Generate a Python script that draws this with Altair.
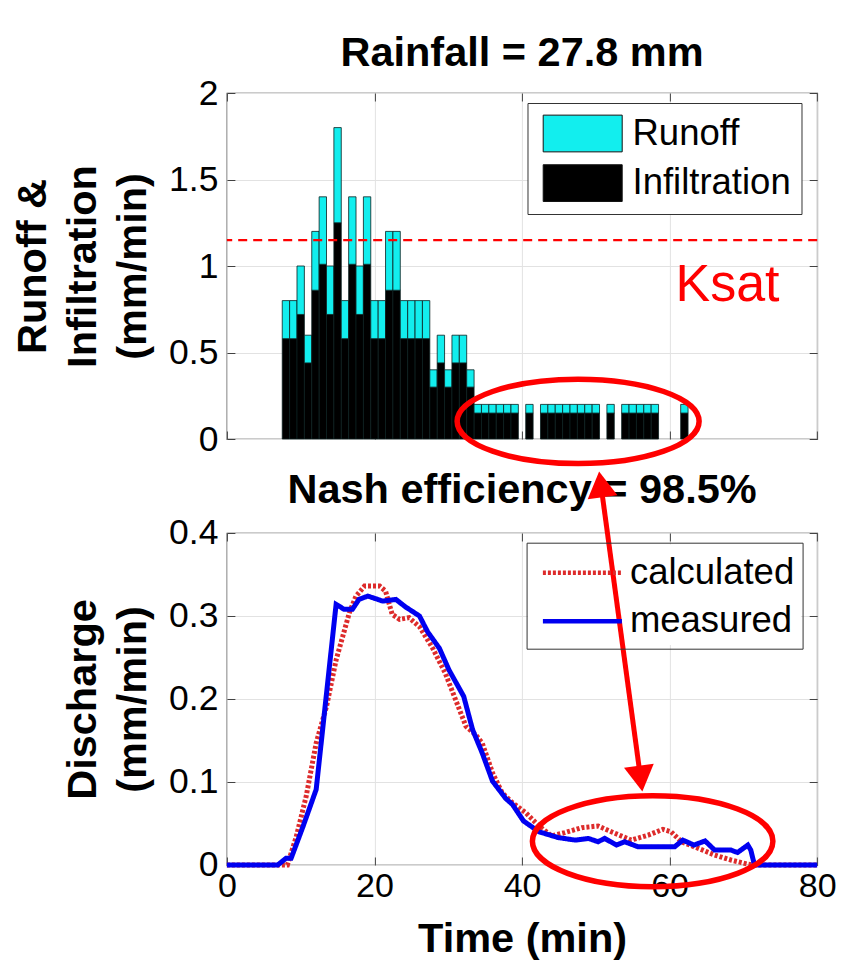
import altair as alt
import pandas as pd

FONT = "Liberation Sans"
CYAN = "#12eeee"
RED = "#ff0000"
CALC_RED = "#dd2b2b"
BLUE = "#0000f0"

# ---------------- top panel: 1-min rainfall split (mm/min) ----------------
bar_time = [8, 9, 10, 11, 12, 13, 14, 15, 16, 17, 18, 19, 20, 21, 22, 23,
            24, 25, 26, 27, 28, 29, 30, 31, 32, 33, 34, 35, 36, 37, 38, 39,
            41, 43, 44, 45, 46, 47, 48, 49, 50, 52, 54, 55, 56, 57, 58, 62]
bar_total = [0.8, 0.8, 1.0, 0.6, 1.2, 1.4, 1.0, 1.8, 0.8, 1.4, 1.0, 1.4, 0.8, 0.8, 1.2, 1.2,
             0.8, 0.8, 0.8, 0.8, 0.4, 0.6, 0.4, 0.6, 0.6, 0.4, 0.2, 0.2, 0.2, 0.2, 0.2, 0.2,
             0.2, 0.2, 0.2, 0.2, 0.2, 0.2, 0.2, 0.2, 0.2, 0.2, 0.2, 0.2, 0.2, 0.2, 0.2, 0.2]
bar_infiltration = [0.58, 0.58, 0.72, 0.44, 0.86, 1.01, 0.72, 1.25, 0.58, 1.01, 0.72, 1.01, 0.58, 0.58, 0.86, 0.86,
                    0.58, 0.58, 0.58, 0.58, 0.30, 0.44, 0.30, 0.44, 0.44, 0.30, 0.15, 0.15, 0.15, 0.15, 0.15, 0.15,
                    0.15, 0.15, 0.15, 0.15, 0.15, 0.15, 0.15, 0.15, 0.15, 0.15, 0.15, 0.15, 0.15, 0.15, 0.15, 0.15]
BAR_HALF = 0.5
ksat_value = [1.15]
ksat_label = {"t": [60.8], "v": [0.795], "label": ["Ksat"]}

# ---------------- bottom panel: discharge (mm/min) ----------------
calc_time = [0, 8.2, 9.4, 10.75, 12.1, 13.5, 14.8, 16.6, 17.5, 18.65, 20.7, 21.5, 22.4, 23.4,
             24.7, 26.1, 27.9, 29.6, 31.0, 32.4, 33.7, 34.6, 36.0, 37.3, 38.7, 40.5, 42.3,
             44.0, 45.8, 48.1, 50.3, 52.1, 54.8, 57.1, 59.1, 60.2, 61.6, 63.9, 66.1, 68.3,
             70.6, 71.3, 80]
calc_q = [0, 0, 0.034, 0.083, 0.147, 0.191, 0.247, 0.304, 0.324, 0.336, 0.336, 0.330, 0.302, 0.296,
          0.298, 0.287, 0.261, 0.231, 0.199, 0.167, 0.157, 0.147, 0.111, 0.087, 0.075, 0.063, 0.047,
          0.035, 0.039, 0.045, 0.047, 0.040, 0.030, 0.036, 0.043, 0.040, 0.028, 0.020, 0.012, 0.006,
          0.001, 0, 0]
meas_time = [0, 6.9, 8.0, 8.7, 10.3, 12.1, 14.8, 15.9, 17.0, 17.9, 19.1, 21.1, 22.9, 24.2, 26.1,
             27.2, 28.8, 30.1, 32.1, 33.3, 34.6, 36.0, 37.8, 38.7, 40.2, 42.3, 44.9, 47.2, 49.0,
             50.3, 51.2, 52.8, 53.9, 55.7, 58.0, 60.7, 61.8, 63.3, 64.8, 66.1, 68.3, 69.2, 70.6,
             71.0, 71.5, 80]
meas_q = [0, 0, 0.008, 0.008, 0.046, 0.091, 0.314, 0.308, 0.308, 0.320, 0.324, 0.318, 0.320, 0.311,
          0.300, 0.281, 0.261, 0.235, 0.203, 0.163, 0.135, 0.101, 0.080, 0.073, 0.053, 0.040, 0.033,
          0.030, 0.032, 0.028, 0.032, 0.024, 0.028, 0.022, 0.022, 0.022, 0.030, 0.024, 0.029, 0.018,
          0.018, 0.015, 0.024, 0.018, 0, 0]
nash_title = {"t": [40], "v": [0.436], "label": ["Nash efficiency = 98.5%"]}

# ---------------- annotations (data units of each panel) ----------------
top_ring = {"t": [47.6], "v": [0.102]}
bottom_ring = {"t": [57.7], "v": [0.0287]}
arrow_shaft = {"t": [50.68], "v": [0.4587], "t2": [56.07], "v2": [0.1042]}
arrow_head_up = {"t": [50.68], "v": [0.4587]}
arrow_head_down = {"t": [56.07], "v": [0.1042]}
legend_patch = {"t": [40.8], "t2": [77.8], "v": [0.265], "v2": [0.386]}

TOP_RING_PATH = "M-1,0A1,0.349,0,1,1,1,0A1,0.349,0,1,1,-1,0Z"
BOTTOM_RING_PATH = "M-1,0A1,0.378,0,1,1,1,0A1,0.378,0,1,1,-1,0Z"
RECT_SYMBOL = "M-2,-0.93L2,-0.93L2,0.93L-2,0.93Z"
LINE_SYMBOL = "M-2,0L2,0"

X_TICKS = [0, 20, 40, 60, 80]
BOLD_SIZE = 41.5


def axis(orient, values, labels=True, grid=False, title=None, **extra):
    d = dict(orient=orient, values=values, labels=labels, grid=grid, domain=False,
             ticks=True, tickSize=8, offset=-8, tickColor="#404040", tickWidth=1,
             minExtent=0,
             labelFont=FONT, labelFontSize=34, labelColor="black", labelFlush=False,
             gridColor="#e2e2e2", gridWidth=1,
             titleFont=FONT, titleFontSize=BOLD_SIZE, titleFontWeight="bold", titleColor="black",
             title=title)
    d.update(extra)
    return alt.Axis(**d)


xs = alt.Scale(domain=[0, 80], nice=False, zero=False)
ys_top = alt.Scale(domain=[0, 2], nice=False)
ys_bot = alt.Scale(domain=[0, 0.4], nice=False)

# ---------------- top panel ----------------
rows = []
for t, tot, inf in zip(bar_time, bar_total, bar_infiltration):
    rows.append({"t0": t - BAR_HALF, "t1": t + BAR_HALF, "lo": 0.0, "hi": inf, "part": "Infiltration"})
    rows.append({"t0": t - BAR_HALF, "t1": t + BAR_HALF, "lo": inf, "hi": tot, "part": "Runoff"})
rain_df = pd.DataFrame(rows)

top_legend = alt.Legend(
    title=None, orient="none", legendX=300.6, legendY=10, direction="vertical",
    symbolType=RECT_SYMBOL, symbolSize=1560, symbolStrokeColor="#111111", symbolStrokeWidth=1,
    symbolOffset=24.7, symbolOpacity=1,
    labelFont=FONT, labelFontSize=36.5, labelColor="black", labelOffset=29.3, labelLimit=400,
    padding=10, strokeColor="#333333", fillColor="white", rowPadding=8.6)

bars = alt.Chart(rain_df).mark_bar(stroke="#0b1f1f", strokeWidth=0.8, opacity=1).encode(
    x=alt.X("t0:Q", scale=xs, axis=axis("bottom", X_TICKS, labels=False, grid=True, labelPadding=5)),
    x2="t1:Q",
    y=alt.Y("lo:Q", scale=ys_top,
            axis=axis("left", [0, 0.5, 1, 1.5, 2], grid=True, format="~g", labelPadding=9,
                      labelFontSize=35.5,
                      title=["Runoff &", "Infiltration", "(mm/min)"], titlePadding=14,
                      titleLineHeight=50)),
    y2="hi:Q",
    color=alt.Color("part:N", scale=alt.Scale(domain=["Runoff", "Infiltration"], range=[CYAN, "black"]),
                    legend=top_legend),
)

ksat_line = alt.Chart(pd.DataFrame({"k": ksat_value})).mark_rule(
    color=RED, strokeWidth=2.3, strokeDash=[9, 6]).encode(
    y=alt.Y("k:Q", scale=ys_top, axis=None))

ksat_text = alt.Chart(pd.DataFrame(ksat_label)).mark_text(
    align="left", baseline="alphabetic", font=FONT, fontSize=52, color=RED).encode(
    x=alt.X("t:Q", scale=xs, axis=None),
    y=alt.Y("v:Q", scale=ys_top, axis=None),
    text="label:N")

top_ring_mark = alt.Chart(pd.DataFrame(top_ring)).mark_point(
    shape=TOP_RING_PATH, size=58564, filled=False, color=RED, strokeWidth=5.5, opacity=1).encode(
    x=alt.X("t:Q", scale=xs, axis=axis("top", X_TICKS, labels=False)),
    y=alt.Y("v:Q", scale=ys_top, axis=axis("right", [0, 0.5, 1, 1.5, 2], labels=False)))

top = alt.layer(bars, ksat_line, ksat_text, top_ring_mark).resolve_axis(
    x="independent", y="independent").properties(
    width=590.3, height=346,
    title=alt.TitleParams("Rainfall = 27.8 mm", font=FONT, fontSize=BOLD_SIZE, fontWeight="bold",
                          color="black", offset=2, anchor="middle"))

# ---------------- bottom panel ----------------
calc_df = pd.DataFrame({"t": calc_time, "q": calc_q, "series": "calculated"})
meas_df = pd.DataFrame({"t": meas_time, "q": meas_q, "series": "measured"})

bottom_legend = alt.Legend(
    title=None, orient="none", legendX=299.7, legendY=9.7, direction="vertical",
    symbolType=LINE_SYMBOL, symbolSize=1560, symbolStrokeWidth=4.5, symbolOffset=25.8,
    labelFont=FONT, labelFontSize=36.5, labelColor="black", labelOffset=25.5, labelLimit=400,
    padding=8, strokeColor="#333333", rowPadding=7.6)

series_color = alt.Color("series:N", scale=alt.Scale(domain=["calculated", "measured"], range=[CALC_RED, BLUE]),
                         legend=bottom_legend)
series_dash = alt.StrokeDash("series:N", scale=alt.Scale(domain=["calculated", "measured"], range=[[3, 2], [1, 0]]),
                             legend=bottom_legend)

patch = alt.Chart(pd.DataFrame(legend_patch)).mark_rect(color="white", opacity=1).encode(
    x=alt.X("t:Q", scale=xs, axis=None), x2="t2:Q",
    y=alt.Y("v:Q", scale=ys_bot, axis=None), y2="v2:Q")

calc_line = alt.Chart(calc_df).mark_line(strokeWidth=5).encode(
    x=alt.X("t:Q", scale=xs,
            axis=axis("bottom", X_TICKS, grid=True, labelPadding=5, title="Time (min)", titlePadding=15)),
    y=alt.Y("q:Q", scale=ys_bot,
            axis=axis("left", [0, 0.1, 0.2, 0.3, 0.4], grid=True, format="~g", labelPadding=9,
                      labelFontSize=35.5,
                      title=["Discharge", "(mm/min)"], titlePadding=14, titleLineHeight=50)),
    color=series_color, strokeDash=series_dash)

meas_line = alt.Chart(meas_df).mark_line(strokeWidth=5).encode(
    x=alt.X("t:Q", scale=xs, axis=None),
    y=alt.Y("q:Q", scale=ys_bot, axis=None),
    color=series_color, strokeDash=series_dash)

nash_text = alt.Chart(pd.DataFrame(nash_title)).mark_text(
    align="center", baseline="alphabetic", font=FONT, fontSize=BOLD_SIZE, fontWeight="bold",
    color="black").encode(
    x=alt.X("t:Q", scale=xs, axis=None),
    y=alt.Y("v:Q", scale=ys_bot, axis=None),
    text="label:N")

bottom_ring_mark = alt.Chart(pd.DataFrame(bottom_ring)).mark_point(
    shape=BOTTOM_RING_PATH, size=57840, filled=False, color=RED, strokeWidth=5.5, opacity=1).encode(
    x=alt.X("t:Q", scale=xs, axis=axis("top", X_TICKS, labels=False)),
    y=alt.Y("v:Q", scale=ys_bot, axis=axis("right", [0, 0.1, 0.2, 0.3, 0.4], labels=False)))

shaft = alt.Chart(pd.DataFrame(arrow_shaft)).mark_rule(color=RED, strokeWidth=5).encode(
    x=alt.X("t:Q", scale=xs, axis=None), x2="t2:Q",
    y=alt.Y("v:Q", scale=ys_bot, axis=None), y2="v2:Q")

head_up = alt.Chart(pd.DataFrame(arrow_head_up)).mark_point(
    shape="triangle-up", size=900, filled=True, color=RED, opacity=1, angle=352.3).encode(
    x=alt.X("t:Q", scale=xs, axis=None), y=alt.Y("v:Q", scale=ys_bot, axis=None))

head_down = alt.Chart(pd.DataFrame(arrow_head_down)).mark_point(
    shape="triangle-down", size=900, filled=True, color=RED, opacity=1, angle=352.3).encode(
    x=alt.X("t:Q", scale=xs, axis=None), y=alt.Y("v:Q", scale=ys_bot, axis=None))

bottom = alt.layer(patch, calc_line, meas_line, nash_text, bottom_ring_mark, shaft, head_up, head_down).resolve_axis(
    x="independent", y="independent").properties(width=590.3, height=332)

chart = alt.vconcat(top, bottom, spacing=94, bounds="flush").resolve_scale(
    color="independent", strokeDash="independent").properties(
    padding={"left": 3.9, "top": 23, "right": 10, "bottom": 5},
    background="white",
).configure_view(stroke="#333333", strokeWidth=1.2)

chart.save("out.html", embed_options={"renderer": "svg", "actions": False})
